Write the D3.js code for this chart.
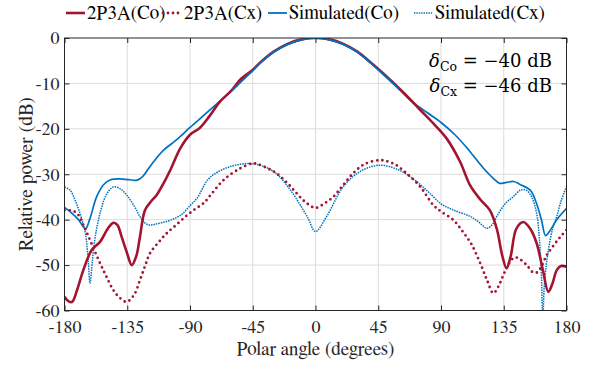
<!DOCTYPE html>
<html>
<head>
<meta charset="utf-8">
<script src="https://cdn.jsdelivr.net/npm/d3@7"></script>
<style>
  body { margin: 0; background: #fff; }
</style>
</head>
<body>
<script>
// ---- data ----
var xTicks = [-180, -135, -90, -45, 0, 45, 90, 135, 180];
var yTicks = [-60, -50, -40, -30, -20, -10, 0];

var coAngles = [-180, -177, -174.5, -171, -166.5, -160.5, -154.5, -149, -145, -142, -139, -135, -131.8, -128.5, -125.9, -122.3, -118, -114, -109, -104, -97, -90, -83, -76, -68.5, -60, -54, -45, -40, -30, -20, -10, 0, 10, 20, 30, 40, 45, 55, 65, 75, 84.5, 94, 103.6, 110.8, 118, 125, 130, 134, 137, 140, 144, 149, 154, 158.6, 163, 167, 170, 173, 176, 180];
var coMeasured = [-57, -58, -58.1, -55.5, -51.1, -46.7, -44.9, -42, -40.7, -41.2, -43.8, -47.5, -50, -48, -43.8, -37.9, -36, -34.6, -32, -29, -24.3, -21.3, -19.8, -17.2, -14, -11.5, -9.2, -7, -5.5, -3, -1.3, -0.3, 0, -0.3, -1.3, -3, -5.5, -6.8, -9.6, -12.6, -15.8, -18.8, -22.1, -27.2, -32.4, -35.5, -37.9, -42, -48, -50.7, -48, -42, -40.5, -42, -45.2, -51, -55.9, -54, -51.1, -50.2, -50.4];

var cxAngles = [-180, -175, -171, -166, -161.7, -154.5, -150, -145, -140, -135.4, -130, -125.9, -122, -118.7, -112, -106.7, -100, -92, -86, -80, -75, -66, -54, -45, -42, -35, -28, -20, -13.5, -7, 0, 6, 13, 20, 27, 35, 46, 52, 58, 66, 75, 84.5, 90, 98.9, 106, 112, 118, 123, 127.5, 131, 135, 139, 143, 147, 151.5, 156, 159, 162, 165.8, 170, 175, 180];
var cxMeasured = [-37.9, -38, -38.6, -41.5, -44.5, -49.6, -52.5, -55.5, -57.3, -58.1, -56.5, -53.3, -50, -47.4, -44.8, -43, -41.2, -39, -37.6, -36.3, -34.5, -31.3, -28.7, -27.6, -27.7, -28.6, -29.8, -32, -34.2, -36.2, -37.4, -36.5, -34.9, -32.3, -29.8, -27.8, -26.9, -27.2, -28, -30, -32.7, -36.8, -38.2, -40.1, -42.8, -45.5, -49.5, -53.3, -56.2, -54.8, -52, -49.5, -48.3, -48.8, -50, -51.6, -51.6, -50.3, -47.8, -46, -44, -42.3];

var simCoAngles = [-180, -175, -170, -165, -162, -157, -152, -147, -140, -134, -128, -124, -118, -110, -100, -90, -80, -70, -60, -50, -45, -40, -30, -20, -10, 0, 10, 20, 30, 40, 45, 50, 60, 70, 80, 90, 100, 110, 120, 127.5, 132, 137, 142, 147, 154, 158, 162, 165, 168, 173, 180];
var simCo = [-37.3, -38.5, -40, -42, -40, -35, -32.3, -31.2, -31, -31.2, -31.3, -30.5, -28, -25, -22.5, -19.7, -17, -14.3, -11.6, -8.6, -7.2, -5.6, -3.1, -1.4, -0.35, 0, -0.35, -1.4, -3.1, -5.6, -7, -8.4, -11.3, -14.2, -16.4, -18.6, -21.3, -24.7, -28.5, -30.9, -32, -31.8, -31.6, -32.3, -33.5, -36, -40, -43.5, -42.5, -40, -37.5];

var simCxAngles = [-180, -176, -172, -168, -165, -163, -161.7, -160, -158, -154, -150, -145, -140, -135.4, -130, -125.9, -122, -119, -115, -107, -100, -95, -90, -85, -76, -61, -45, -30, -18, -6, 0, 8, 20, 32, 46, 60, 70, 77, 82, 90, 99, 111, 117, 123, 127, 130, 136, 142, 147, 151, 155, 158.6, 160.5, 162, 163, 164, 165.5, 167, 170, 173, 176, 180];
var simCx = [-32.8, -33.5, -36, -39.5, -43, -49, -54, -49, -43.8, -38, -34.5, -32.8, -33.2, -34.6, -37, -39.3, -40.8, -41.2, -41, -40.4, -39.6, -38.6, -36.9, -35.3, -30.8, -28.3, -27.7, -29.4, -33.5, -39.3, -42.6, -39.3, -32.7, -29.4, -28, -29.1, -31, -32.8, -34.2, -36.5, -37.9, -39.3, -40.5, -41.9, -41, -39.3, -36.5, -34.9, -33.5, -33.5, -35, -38.6, -44, -52, -62, -55, -50, -46.7, -42, -39.3, -36, -32.7];

var legendNames = ["2P3A(Co)", "2P3A(Cx)", "Simulated(Co)", "Simulated(Cx)"];
var deltaCo = -40, deltaCx = -46;

// ---- layout ----
var W = 597, H = 370;
var margin = {top: 38, right: 30.5, bottom: 59.5, left: 64.5},
    width = W - margin.left - margin.right,
    height = H - margin.top - margin.bottom;

var red = "#A2142F", blue = "#0072BD";
var serif = "FreeSerif, Times New Roman, serif";

var svg = d3.select("body").append("svg")
    .attr("width", W)
    .attr("height", H)
    .style("font-family", serif);

var g = svg.append("g")
    .attr("transform", "translate(" + margin.left + "," + margin.top + ")");

var x = d3.scaleLinear().domain([-180, 180]).range([0, width]);
var y = d3.scaleLinear().domain([-60, 0]).range([height, 0]);

// grid
g.append("g").selectAll("line")
    .data(xTicks.slice(1, -1))
    .enter().append("line")
    .attr("x1", function(d) { return x(d); })
    .attr("x2", function(d) { return x(d); })
    .attr("y1", 0).attr("y2", height)
    .attr("stroke", "#dcdcdc").attr("stroke-width", 1);
g.append("g").selectAll("line")
    .data(yTicks.slice(1, -1))
    .enter().append("line")
    .attr("y1", function(d) { return y(d); })
    .attr("y2", function(d) { return y(d); })
    .attr("x1", 0).attr("x2", width)
    .attr("stroke", "#dcdcdc").attr("stroke-width", 1);

// clip
svg.append("defs").append("clipPath").attr("id", "clip")
  .append("rect").attr("width", width).attr("height", height);

var plot = g.append("g").attr("clip-path", "url(#clip)");

function pairs(a, v) { return a.map(function(d, i) { return [d, v[i]]; }); }

var line = d3.line()
    .x(function(d) { return x(d[0]); })
    .y(function(d) { return y(d[1]); })
    .curve(d3.curveCatmullRom.alpha(0.5));

// Simulated(Cx) - thin dotted blue
plot.append("path")
    .attr("d", line(pairs(simCxAngles, simCx)))
    .attr("fill", "none").attr("stroke", blue)
    .attr("stroke-width", 1.5).attr("stroke-dasharray", "1.5 1");

// Simulated(Co) - solid blue
plot.append("path")
    .attr("d", line(pairs(simCoAngles, simCo)))
    .attr("fill", "none").attr("stroke", blue)
    .attr("stroke-width", 1.7);

// 2P3A(Cx) - dotted red
plot.append("path")
    .attr("d", line(pairs(cxAngles, cxMeasured)))
    .attr("fill", "none").attr("stroke", red)
    .attr("stroke-width", 2.8).attr("stroke-linecap", "round")
    .attr("stroke-dasharray", "0 5.2");

// 2P3A(Co) - solid red
plot.append("path")
    .attr("d", line(pairs(coAngles, coMeasured)))
    .attr("fill", "none").attr("stroke", red)
    .attr("stroke-width", 2.6);

// blue main lobe drawn over the red one, as in the reference
plot.append("path")
    .attr("d", line(pairs(simCoAngles, simCo).filter(function(d) { return d[0] >= -60 && d[0] <= 60; })))
    .attr("fill", "none").attr("stroke", blue)
    .attr("stroke-width", 1.7);

// axes (ticks inward, box on)
var tickLen = 5;
var axB = g.append("g").attr("transform", "translate(0," + height + ")")
    .call(d3.axisBottom(x).tickValues(xTicks).tickSizeInner(-tickLen).tickSizeOuter(0).tickPadding(10));
var axL = g.append("g")
    .call(d3.axisLeft(y).tickValues(yTicks).tickSizeInner(-tickLen).tickSizeOuter(0).tickPadding(5));
var axT = g.append("g")
    .call(d3.axisTop(x).tickValues(xTicks).tickSizeInner(-tickLen).tickSizeOuter(0).tickFormat(""));
var axR = g.append("g").attr("transform", "translate(" + width + ",0)")
    .call(d3.axisRight(y).tickValues(yTicks).tickSizeInner(-tickLen).tickSizeOuter(0).tickFormat(""));

[axB, axL, axT, axR].forEach(function(a) {
    a.attr("font-family", serif).attr("font-size", 18);
    a.select(".domain").remove();
    a.selectAll("line").attr("stroke", "#262626");
    a.selectAll("text").attr("fill", "#262626");
});
axL.selectAll("text").text(function(d) { return d === 0 ? "0" : "-" + Math.abs(d); });
axB.selectAll("text").text(function(d) { return d < 0 ? "-" + Math.abs(d) : d; });

g.append("rect")
    .attr("width", width).attr("height", height)
    .attr("fill", "none").attr("stroke", "#262626").attr("stroke-width", 1);

// axis titles
svg.append("text")
    .attr("x", margin.left + width / 2)
    .attr("y", 355)
    .attr("text-anchor", "middle")
    .attr("font-size", 19)
    .attr("fill", "#262626")
    .text("Polar angle (degrees)");

svg.append("text")
    .attr("transform", "translate(32," + (margin.top + height / 2) + ") rotate(-90)")
    .attr("text-anchor", "middle")
    .attr("font-size", 19.5)
    .attr("fill", "#262626")
    .text("Relative power (dB)");

// legend
var legendX = [66, 163, 268, 414];
var legendStyle = [
    {color: red, w: 2.6, dash: null, cap: "butt"},
    {color: red, w: 2.8, dash: "0 5", cap: "round"},
    {color: blue, w: 1.8, dash: null, cap: "butt"},
    {color: blue, w: 1.4, dash: "1.4 1", cap: "butt"}
];
var leg = svg.append("g");
legendNames.forEach(function(name, i) {
    var lx = legendX[i], st = legendStyle[i];
    leg.append("line")
        .attr("x1", lx).attr("x2", lx + 19)
        .attr("y1", 13).attr("y2", 13)
        .attr("stroke", st.color).attr("stroke-width", st.w)
        .attr("stroke-linecap", st.cap)
        .attr("stroke-dasharray", st.dash);
    leg.append("text")
        .attr("x", lx + 21).attr("y", 19)
        .attr("font-size", 19)
        .attr("fill", "#000")
        .text(name);
});

// delta annotation
function deltaLine(yb, sub, val) {
    var t = svg.append("text")
        .attr("x", 552).attr("y", yb)
        .attr("text-anchor", "end")
        .attr("font-family", "DejaVu Serif, serif")
        .attr("font-size", 18)
        .attr("fill", "#000");
    t.append("tspan").attr("font-style", "italic").text("\u03b4");
    t.append("tspan").attr("dy", 4).attr("font-size", 12.5).text(sub);
    t.append("tspan").attr("dy", -4).text(" = \u2212" + Math.abs(val) + " dB");
}
deltaLine(67, "Co", deltaCo);
deltaLine(92, "Cx", deltaCx);
</script>
</body>
</html>
